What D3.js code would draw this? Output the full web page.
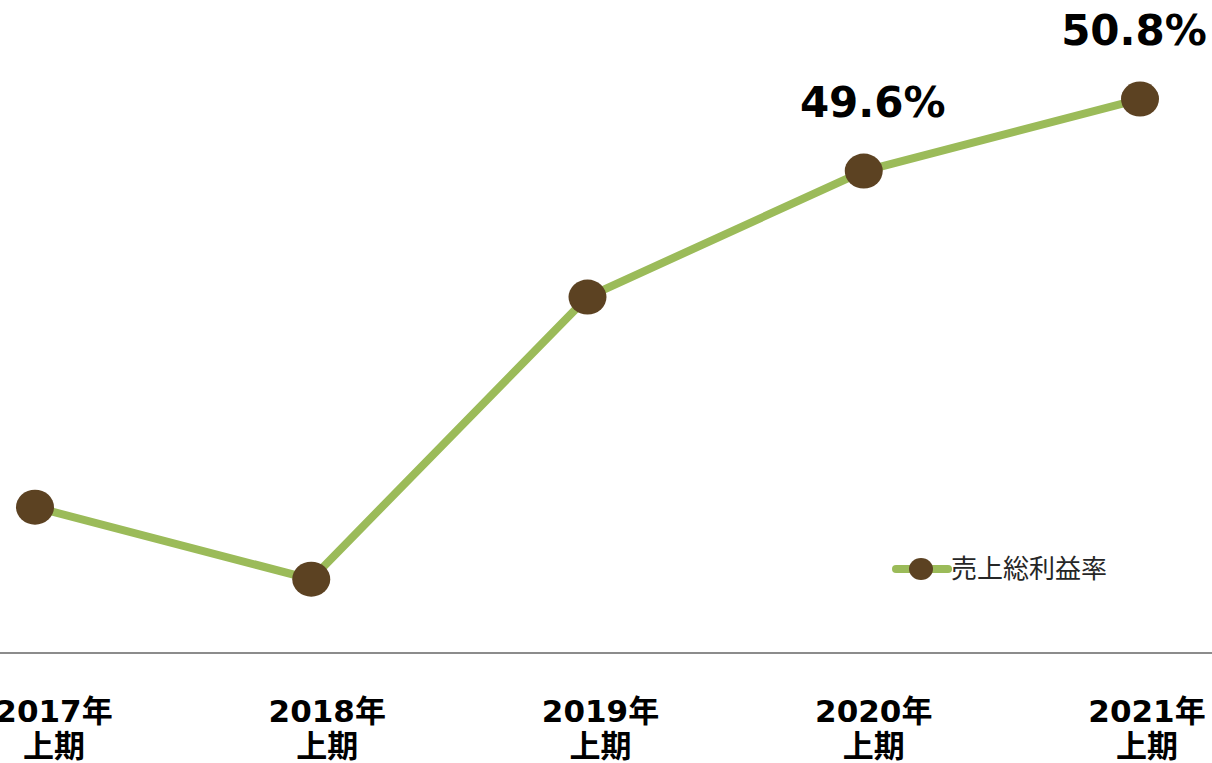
<!DOCTYPE html>
<html>
<head>
<meta charset="utf-8">
<script src="https://cdn.jsdelivr.net/npm/d3@7"></script>
<style>
  body { margin: 0; background: #fff; }
  svg { display: block; }
</style>
</head>
<body>
<div id="chart"></div>
<script>
// data
const years = ["2017年", "2018年", "2019年", "2020年", "2021年"];
const halves = ["上期", "上期", "上期", "上期", "上期"];
const grossMargin = [44.0, 42.8, 47.5, 49.6, 50.8];
const labelled = ["", "", "", "49.6%", "50.8%"];
const seriesName = "売上総利益率";

const width = 1212, height = 763;
const lineColor = "#9bbb59", dotColor = "#5c4222";
const font = "'DejaVu Sans', 'Noto Sans CJK JP', sans-serif";

const svg = d3.select("#chart")
  .append("svg")
  .attr("width", width)
  .attr("height", height);

const x = d3.scalePoint()
  .domain(years)
  .range([35, 1140]);

// category labels sit a little right of the points, last one pulled in
const xLabel = d3.scalePoint()
  .domain(years)
  .range([54, 1147]);

const y = d3.scaleLinear()
  .domain([41.57, 52.45])
  .range([653, 0]);

// axis baseline
svg.append("line")
  .attr("x1", 0).attr("x2", width)
  .attr("y1", y(41.57)).attr("y2", y(41.57))
  .attr("stroke", "#8c8c8c")
  .attr("stroke-width", 2);

// category labels
const cat = svg.selectAll(".cat")
  .data(years)
  .enter()
  .append("text")
  .attr("class", "cat")
  .attr("text-anchor", "middle")
  .attr("font-family", font)
  .attr("font-weight", "bold")
  .attr("font-size", 31)
  .attr("fill", "#000");

cat.append("tspan")
  .attr("x", d => xLabel(d))
  .attr("y", 722)
  .text(d => d);

cat.append("tspan")
  .attr("x", d => xLabel(d))
  .attr("y", 757)
  .text((d, i) => halves[i]);

// line
const line = d3.line()
  .x((d, i) => x(years[i]))
  .y(d => y(d));

svg.append("path")
  .datum(grossMargin)
  .attr("d", line)
  .attr("fill", "none")
  .attr("stroke", lineColor)
  .attr("stroke-width", 8);

// markers
svg.selectAll(".dot")
  .data(grossMargin)
  .enter()
  .append("ellipse")
  .attr("class", "dot")
  .attr("cx", (d, i) => x(years[i]))
  .attr("cy", d => y(d))
  .attr("rx", 19)
  .attr("ry", 17.5)
  .attr("fill", dotColor);

// value labels
svg.selectAll(".val")
  .data(grossMargin)
  .enter()
  .append("text")
  .attr("class", "val")
  .attr("x", (d, i) => x(years[i]) + (i === 3 ? 9 : -6))
  .attr("y", d => y(d) - 54)
  .attr("text-anchor", "middle")
  .attr("font-family", font)
  .attr("font-weight", "bold")
  .attr("font-size", 42)
  .attr("fill", "#000")
  .text((d, i) => labelled[i]);

// legend
const lg = svg.append("g").attr("transform", "translate(896, 569)");
lg.append("line")
  .attr("x1", 0).attr("x2", 52)
  .attr("y1", 0).attr("y2", 0)
  .attr("stroke", lineColor)
  .attr("stroke-width", 8)
  .attr("stroke-linecap", "round");
lg.append("ellipse")
  .attr("cx", 25).attr("cy", 0)
  .attr("rx", 12).attr("ry", 11)
  .attr("fill", dotColor);
lg.append("text")
  .attr("x", 55)
  .attr("y", 9)
  .attr("font-family", "'Noto Sans CJK JP', sans-serif")
  .attr("font-size", 26)
  .attr("fill", "#262626")
  .text(seriesName);
</script>
</body>
</html>
